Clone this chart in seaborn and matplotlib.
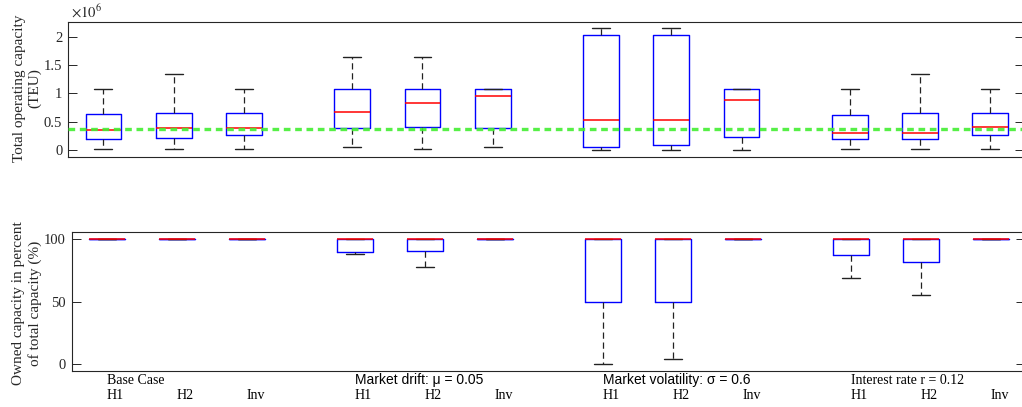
import numpy as np
import pandas as pd
import matplotlib
matplotlib.use("Agg")
import matplotlib.pyplot as plt
import seaborn as sns

# scenarios and strategies
groups = ["Base Case", "Market drift: μ = 0.05", "Market volatility: σ = 0.6", "Interest rate r = 0.12"]
strategies = ["H1", "H2", "Inv"]

# total operating capacity (x 10^6 TEU): five-number summaries per box
cap_min = [0.018, 0.018, 0.018, 0.053, 0.018, 0.053, 0.0, 0.0, 0.0, 0.018, 0.018, 0.018]
cap_q1 = [0.188, 0.212, 0.259, 0.382, 0.400, 0.382, 0.047, 0.088, 0.235, 0.188, 0.188, 0.259]
cap_med = [0.353, 0.382, 0.382, 0.665, 0.835, 0.953, 0.524, 0.524, 0.882, 0.306, 0.306, 0.400]
cap_q3 = [0.635, 0.659, 0.659, 1.071, 1.071, 1.071, 2.035, 2.035, 1.071, 0.612, 0.659, 0.659]
cap_max = [1.071, 1.335, 1.071, 1.647, 1.647, 1.071, 2.147, 2.147, 1.071, 1.071, 1.335, 1.071]
reference_capacity = 0.37

# owned capacity in percent of total capacity
own_min = [100, 100, 100, 88.0, 77.6, 100, 0.0, 4.2, 100, 69.3, 55.4, 100]
own_q1 = [100, 100, 100, 89.8, 90.9, 100, 50.0, 50.0, 100, 87.4, 81.8, 100]
own_med = [100] * 12
own_q3 = [100] * 12
own_max = [100] * 12

# box positions: 3 per group, wider gap between groups
group_gap = 1.54
positions = []
for g in range(len(groups)):
    start = 1 + g * (2 + group_gap)
    positions += [start + k for k in range(len(strategies))]


def long_frame(*cols):
    rows = []
    for i, p in enumerate(positions):
        for c in cols:
            rows.append((p, c[i]))
    return pd.DataFrame(rows, columns=["pos", "value"])


df_cap = long_frame(cap_min, cap_q1, cap_med, cap_q3, cap_max)
df_own = long_frame(own_min, own_q1, own_med, own_q3, own_max)

sns.set_style("white")
plt.rcParams["font.family"] = ["Liberation Serif", "DejaVu Serif"]
plt.rcParams["mathtext.fontset"] = "stix"
axcol = "#262626"

fig = plt.figure(figsize=(10.22, 4.07), dpi=100)
ax1 = fig.add_axes([68.3 / 1022, 1 - 157 / 407, (1024 - 68.3) / 1022, (157 - 22.3) / 407])
ax2 = fig.add_axes([71.7 / 1022, 1 - 371 / 407, (1024.5 - 71.7) / 1022, (371 - 232.3) / 407])

box_kws = dict(
    x="pos", y="value", native_scale=True, fill=False, width=0.51,
    whis=(0, 100), showfliers=False, color="blue", linewidth=1.0,
    boxprops=dict(color="blue", linewidth=1.0),
    medianprops=dict(color="red", linewidth=1.1, zorder=4),
    whiskerprops=dict(color="#222222", linewidth=0.9, linestyle=(0, (5, 3))),
    capprops=dict(color="#222222", linewidth=1.0),
)

sns.boxplot(data=df_cap, ax=ax1, **box_kws)
ax1.axhline(reference_capacity, color="#44ee33", linewidth=2.4,
            linestyle=(0, (2.0, 1.4)), alpha=0.9, zorder=5)

sns.boxplot(data=df_own, ax=ax2, **box_kws)

for ax in (ax1, ax2):
    ax.set_xlim(0.5, 14.1)
    ax.set_xticks([])
    ax.set_xlabel("")
    ax.set_ylabel("")
    for s in ax.spines.values():
        s.set_color(axcol)
        s.set_linewidth(0.8)
    ax.tick_params(axis="y", direction="in", length=6.5, width=0.7, left=True,
                   right=True, labelsize=10.5, pad=4.3, colors=axcol)

ax1.set_ylim(-0.124, 2.254)
ax1.set_yticks([0, 0.5, 1, 1.5, 2])
ax1.set_yticklabels(["0", "0.5", "1", "1.5", "2"])
ax2.set_ylim(-5.4, 105.6)
ax2.set_yticks([0, 50, 100])
ax2.set_yticklabels(["0", "50", "100"])

fig.text(71 / 1022, 1 - 18 / 407, r"$\times10^{6}$", ha="left", va="baseline",
         fontsize=10.5, color=axcol)

fig.text(27 / 1022, 1 - 88 / 407, "Total operating capacity\n(TEU)", rotation=90,
         ha="center", va="center", multialignment="center", fontsize=11,
         color=axcol, linespacing=1.2)
fig.text(27 / 1022, 1 - 303 / 407, "Owned capacity in percent\nof total capacity (%)",
         rotation=90, ha="center", va="center", multialignment="center",
         fontsize=11, color=axcol, linespacing=1.2)

# group and strategy labels under the lower panel
group_fonts = ["Liberation Serif", "Liberation Sans", "Liberation Sans", "Liberation Serif"]
trans = ax2.get_xaxis_transform()
for g, name in enumerate(groups):
    ax2.text(positions[3 * g], -0.094, name, transform=trans, ha="left",
             va="baseline", fontsize=10, family=group_fonts[g], color="black")
for i, p in enumerate(positions):
    ax2.text(p, -0.204, strategies[i % 3], transform=trans, ha="left",
             va="baseline", fontsize=10, color="black")

fig.savefig("out.png", dpi=100)
